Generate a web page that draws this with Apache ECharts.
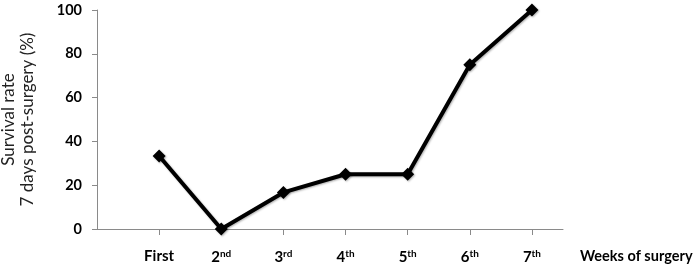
<!DOCTYPE html>
<html><head><meta charset="utf-8">
<script src="https://cdn.jsdelivr.net/npm/echarts@6/dist/echarts.min.js"></script>
<style>html,body{margin:0;padding:0;background:#fff}#c{width:700px;height:264px}</style>
</head><body><div id="c"></div>
<script>
var categories = ['First', '2nd', '3rd', '4th', '5th', '6th', '7th'];
var survivalRate = [33.3, 0, 16.7, 25, 25, 75, 100];
var yTicks = [0, 20, 40, 60, 80, 100];

function fmtLabel(s) {
  var m = s.match(/^(\d+)(st|nd|rd|th)$/);
  if (m) return '{b|' + m[1] + '}{s|' + m[2] + '}';
  return '{b|' + s + '}';
}

var pts = survivalRate.map(function (v, i) { return [i + 1, v]; });
var chart = echarts.init(document.getElementById('c'));
chart.setOption({
  animation: false,
  textStyle: { fontFamily: 'Lato' },
  grid: { left: 97, right: 137, top: 10, bottom: 35, containLabel: false, outerBoundsMode: 'none' },
  xAxis: {
    type: 'value', min: 0, max: 7.5, interval: 1,
    name: 'Weeks of surgery', nameLocation: 'end', nameGap: 17,
    nameTextStyle: { fontFamily: 'Lato', fontWeight: 'bold', fontSize: 14.5, color: '#000', verticalAlign: 'top', padding: [20, 0, 0, 0] },
    splitLine: { show: false },
    axisLine: { show: true, lineStyle: { color: '#8a8a8a', width: 1 } },
    axisTick: { show: true, length: 6, lineStyle: { color: '#8a8a8a' }, customValues: [1, 2, 3, 4, 5, 6, 7] },
    axisLabel: {
      margin: 20,
      customValues: [1, 2, 3, 4, 5, 6, 7],
      formatter: function (v) { var c = categories[Math.round(v) - 1]; return c ? fmtLabel(c) : ''; },
      rich: {
        b: { fontFamily: 'Lato', fontWeight: 'bold', fontSize: 15, color: '#000' },
        s: { fontFamily: 'Lato', fontWeight: 'bold', fontSize: 10, color: '#000', verticalAlign: 'top', padding: [0, 0, 6, 0] }
      }
    }
  },
  yAxis: {
    type: 'value', min: 0, max: 100, interval: 20,
    name: 'Survival rate\n7 days post-surgery (%)', nameLocation: 'middle', nameGap: 60,
    nameTextStyle: { fontFamily: 'Lato', fontSize: 17, color: '#222', lineHeight: 19 },
    splitLine: { show: false },
    axisLine: { show: true, lineStyle: { color: '#8a8a8a', width: 1 } },
    axisTick: { show: true, length: 5, lineStyle: { color: '#8a8a8a' } },
    axisLabel: {
      margin: 15, fontFamily: 'Lato', fontWeight: 'bold', fontSize: 14.5, color: '#000',
      customValues: yTicks
    }
  },
  series: [{
    type: 'line', data: pts,
    symbol: 'diamond', symbolSize: 13,
    lineStyle: { color: '#000', width: 4, shadowColor: 'rgba(0,0,0,0.3)', shadowBlur: 2, shadowOffsetX: 1, shadowOffsetY: 1 },
    itemStyle: { color: '#000', shadowColor: 'rgba(0,0,0,0.3)', shadowBlur: 2, shadowOffsetX: 1, shadowOffsetY: 1 }
  }]
});
</script></body></html>
